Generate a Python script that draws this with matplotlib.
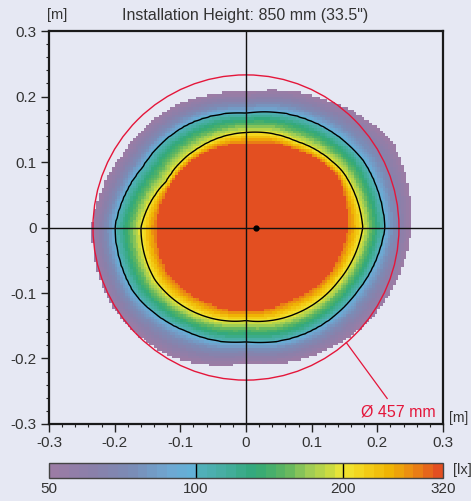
import matplotlib.pyplot as plt
import numpy as np
from matplotlib.colors import LinearSegmentedColormap, BoundaryNorm
from matplotlib.patches import Circle

plt.rcParams['font.family'] = ['Liberation Sans', 'DejaVu Sans']

# contour radii [m], at these angles [deg]
angles = [0, 30, 60, 90, 120, 150, 180, 210, 240, 270, 300, 330]
r_core = [0.155, 0.160, 0.140, 0.128, 0.131, 0.132, 0.137, 0.139, 0.130, 0.128, 0.130, 0.145]
r_200 = [0.178, 0.170, 0.152, 0.145, 0.141, 0.140, 0.160, 0.160, 0.151, 0.142, 0.152, 0.163]
r_100 = [0.212, 0.206, 0.190, 0.175, 0.181, 0.183, 0.200, 0.198, 0.183, 0.175, 0.186, 0.196]
r_50 = [0.252, 0.259, 0.228, 0.206, 0.215, 0.219, 0.235, 0.237, 0.228, 0.207, 0.222, 0.239]
level_lux = [290, 200, 100, 50]
core_lux = 315
# falloff shape per ring (1 = log-linear in radius)
ring_shape = [1.0, 1.0, 0.75]

cbar_ticks = [50, 100, 200, 320]
contour_levels = [100, 200]
circle_radius = 0.233
circle_label = 'Ø 457 mm'
title = 'Installation Height: 850 mm (33.5")'
center_dot = (0.015, 0.0)

cmap_pos = [0.0, 0.10, 0.20, 0.30, 0.37, 0.375, 0.45, 0.52, 0.60, 0.66, 0.72, 0.75, 0.80, 0.87, 0.93, 1.0]
cmap_col = ['#9b7ca5', '#8a80aa', '#7a8cb6', '#6ea8d2', '#5fb3d8', '#52b0bc', '#45ae9e', '#31a878',
            '#5db560', '#9ccb56', '#cddc40', '#f0e836', '#f4d41c', '#efb404', '#eb8a12', '#e34f21']

bg = '#e6e8f3'
txt = '#333333'


def lux_field(X, Y):
    theta = np.degrees(np.arctan2(Y, X)) % 360
    r = np.hypot(X, Y)
    radii = [np.interp(theta, angles, rr, period=360) for rr in (r_core, r_200, r_100, r_50)]
    logv = np.log(level_lux)
    out = np.full(r.shape, np.nan)
    out[r <= radii[0]] = core_lux
    for i in range(3):
        inner, outer = radii[i], radii[i + 1]
        m = (r > inner) & (r <= outer)
        t = ((r[m] - inner[m]) / (outer[m] - inner[m])) ** ring_shape[i]
        out[m] = np.exp(logv[i] + t * (logv[i + 1] - logv[i]))
    return out


step = 0.004
edges = np.arange(-0.3, 0.3 + step / 2, step)
centers = (edges[:-1] + edges[1:]) / 2
X, Y = np.meshgrid(centers, centers)
Z = lux_field(X, Y)

cmap = LinearSegmentedColormap.from_list('lux', list(zip(cmap_pos, cmap_col)))
bounds = np.geomspace(cbar_ticks[0], cbar_ticks[-1], 41)
norm = BoundaryNorm(bounds, cmap.N)

fig = plt.figure(figsize=(4.71, 5.01), dpi=100, facecolor=bg)
ax = fig.add_axes([0.104, 0.1537, 0.8365, 0.7844], facecolor=bg)
mesh = ax.pcolormesh(edges, edges, np.ma.masked_invalid(Z), cmap=cmap, norm=norm)
cs = ax.contour(X, Y, Z, levels=contour_levels, colors='black', linewidths=1.0)

ax.axhline(0, color='#111111', lw=1.0)
ax.axvline(0, color='#111111', lw=1.0)
ax.plot(*center_dot, 'o', color='black', ms=3.5)
ax.add_patch(Circle((0, 0), circle_radius, fill=False, ec='#e4163a', lw=1.0))

ang = np.radians(-49)
p0 = (circle_radius * np.cos(ang), circle_radius * np.sin(ang))
ax.plot([p0[0], 0.215], [p0[1], -0.261], color='#e4163a', lw=0.9)
ax.text(0.289, -0.281, circle_label, color='#e4163a', fontsize=11.5, ha='right', va='center')

ax.set_xlim(-0.3, 0.3)
ax.set_ylim(-0.3, 0.3)
ticks = np.round(np.arange(-0.3, 0.31, 0.1), 1)
ax.set_xticks(ticks)
ax.set_yticks(ticks)
ax.set_xticklabels(['0' if t == 0 else f'{t:g}' for t in ticks])
ax.set_yticklabels(['0' if t == 0 else f'{t:g}' for t in ticks])
ax.set_xticks(np.arange(-0.3, 0.301, 0.02), minor=True)
ax.set_yticks(np.arange(-0.3, 0.301, 0.02), minor=True)
ax.tick_params(which='major', length=6, width=1.0, color='#222222', labelsize=11, labelcolor=txt, pad=3)
ax.tick_params(which='minor', length=2.5, width=0.8, color='#222222')
for s in ax.spines.values():
    s.set_linewidth(1.6)
    s.set_color('#1a1a1a')

ax.text(-0.005, 1.04, '[m]', transform=ax.transAxes, fontsize=10.5, color=txt, va='center', ha='left')
ax.text(1.016, 0.016, '[m]', transform=ax.transAxes, fontsize=10, color=txt, va='center', ha='left')
fig.text(0.521, 0.97, title, ha='center', va='center', fontsize=11.5, color=txt)

cax = fig.add_axes([0.104, 0.0459, 0.8365, 0.030])
cb = fig.colorbar(mesh, cax=cax, orientation='horizontal', ticks=cbar_ticks)
cb.ax.set_xticklabels([str(t) for t in cbar_ticks])
cb.add_lines(cs)
cb.ax.tick_params(length=0, labelsize=11, labelcolor=txt, pad=3)
cb.ax.minorticks_off()
cb.outline.set_edgecolor('#444444')
cb.outline.set_linewidth(1.0)
fig.text(0.962, 0.061, '[lx]', ha='left', va='center', fontsize=10.5, color=txt)

fig.savefig('out.png', dpi=100, facecolor=bg)
